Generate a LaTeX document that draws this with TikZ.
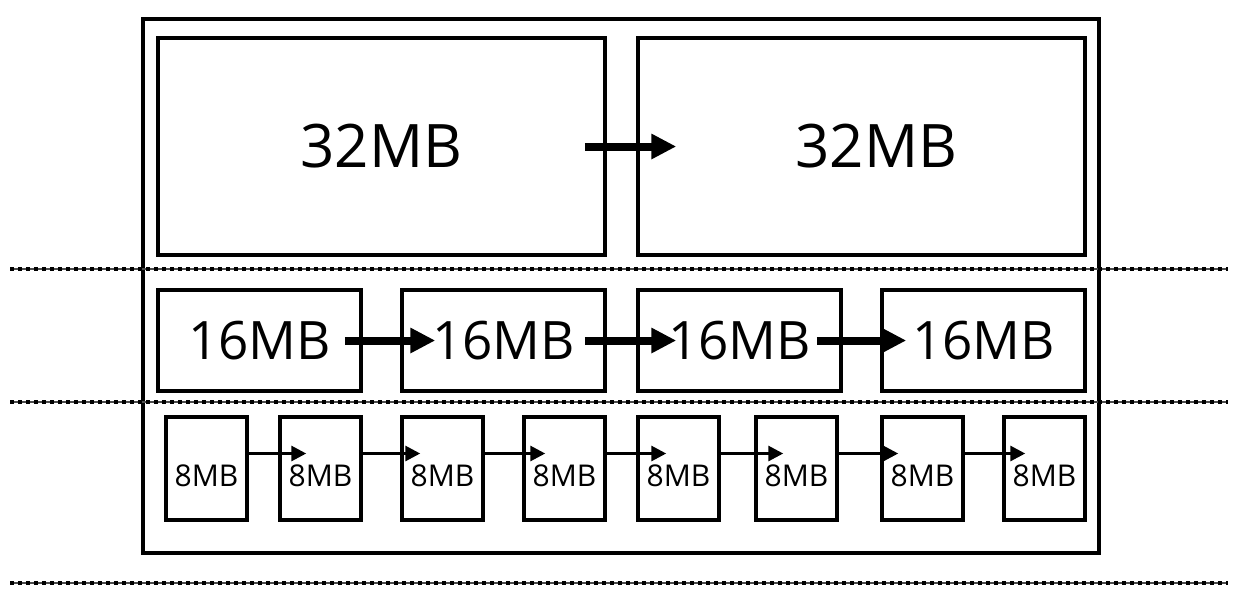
\documentclass[tikz,border=0pt]{standalone}
\usepackage{fontspec}
\setmainfont{Open Sans}
\usetikzlibrary{positioning}
\usetikzlibrary{arrows.meta}

\begin{document}
\begin{tikzpicture}[x=1pt, y=-1pt,
  box/.style={draw, rectangle, line width = 3.5pt},
  bigbox/.style={box, minimum width = 447pt, minimum height = 217pt, font=\fontsize{60}{66}\selectfont},
  midbox/.style={box, minimum width = 203pt, minimum height = 101pt, font=\fontsize{53}{58}\selectfont},
  smallbox/.style={box, minimum width = 81pt, minimum height = 103pt},
  smalltext/.style={font=\fontsize{30}{34}\selectfont},
  level/.style={line width=1.5pt, black!70},
  dots/.style={line width=3.5pt, dash pattern=on 3.5pt off 4.5pt}]
\useasboundingbox (0,0) rectangle (1242,598);
% outer frame
\node at (621,286) [draw, name=Frame, rectangle, minimum width = 956pt, minimum height = 534pt, line width = 3.5pt]{};
% 32MB row
\node at (381.5,146.5) [bigbox, name=BigA]{32MB};
\node at (861.5,146.5) [bigbox, name=BigB]{\hspace{30pt}32MB};
\draw [-{Triangle[length=25pt, width=24pt]}, line width=8pt] ([xshift=-22pt]BigA.east) -- ([xshift=40pt]BigB.west);
% 16MB row
\foreach \i/\x in {1/259.5, 2/503.5, 3/739.5, 4/983.5}
  \node at (\x,340.5) [midbox, name=Mid\i]{16MB};
\foreach \a/\b/\s/\t in {1/2/18/35, 2/3/22/40, 3/4/26/26}
  \draw [-{Triangle[length=25pt, width=24pt]}, line width=8pt] ([xshift=-\s pt]Mid\a.east) -- ([xshift=\t pt]Mid\b.west);
% 8MB row
\foreach \i/\x in {1/206.5, 2/320.5, 3/442.5, 4/564.5, 5/678.5, 6/796.5, 7/922.5, 8/1044.5}{
  \node at (\x,468.5) [smallbox, name=Small\i]{};
  \node at ([yshift=-7pt]Small\i.center) [smalltext]{8MB};
}
\foreach \a/\b/\t in {1/2/28, 2/3/20, 3/4/23, 4/5/30, 5/6/29, 6/7/18, 7/8/23}
  \draw [-{Triangle[length=15pt, width=15pt]}, line width=3pt] ([yshift=15pt]Small\a.east) -- ([yshift=15pt, xshift=\t pt]Small\b.west);
% level separators
\foreach \y in {269, 402, 583}{
  \draw [level] (10,\y) -- (1228,\y);
  \draw [dots] (10,\y) -- (1228,\y);
}
\end{tikzpicture}
\end{document}
